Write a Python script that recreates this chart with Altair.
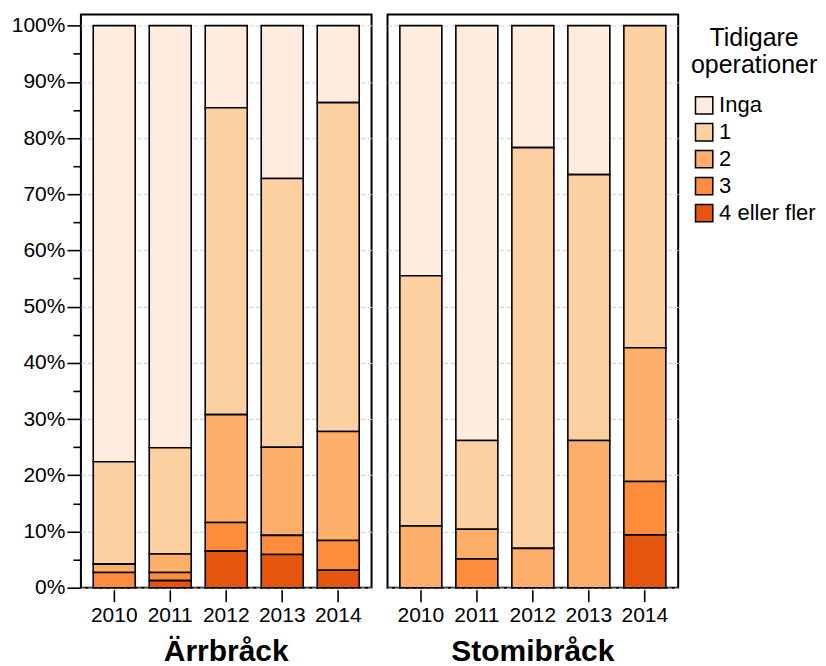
import altair as alt
import pandas as pd

years = ["2010", "2011", "2012", "2013", "2014"]
panels = ["Ärrbråck", "Stomibråck"]
categories = ["Inga", "1", "2", "3", "4 eller fler"]
colors = ["#feedde", "#fdd0a2", "#fdae6b", "#fd8d3c", "#e6550d"]

# percentages per category, per year
arr_inga = [77.6, 75.1, 14.6, 27.2, 13.7]
arr_1 = [18.2, 18.9, 54.6, 47.8, 58.5]
arr_2 = [1.5, 3.3, 19.2, 15.7, 19.4]
arr_3 = [2.7, 1.45, 5.1, 3.4, 5.3]
arr_4 = [0.0, 1.25, 6.5, 5.9, 3.1]

stomi_inga = [44.5, 73.8, 21.7, 26.5, 0.0]
stomi_1 = [44.5, 15.8, 71.3, 47.3, 57.3]
stomi_2 = [11.0, 5.3, 7.0, 26.2, 23.8]
stomi_3 = [0.0, 5.1, 0.0, 0.0, 9.5]
stomi_4 = [0.0, 0.0, 0.0, 0.0, 9.4]

series = {
    "Ärrbråck": [arr_inga, arr_1, arr_2, arr_3, arr_4],
    "Stomibråck": [stomi_inga, stomi_1, stomi_2, stomi_3, stomi_4],
}

rows = []
for panel in panels:
    for ci, cat in enumerate(categories):
        for yi, yr in enumerate(years):
            v = series[panel][ci][yi]
            if v > 0:
                rows.append({"panel": panel, "year": yr, "cat": cat,
                             "order": len(categories) - ci, "value": v})
df = pd.DataFrame(rows)

FONT = "Liberation Sans"
major = "round(datum.value*100) % 10 == 0"
tick_vals = [i / 100 for i in range(0, 101, 5)]

base = alt.Chart(df).mark_bar(stroke="black", strokeWidth=1.6).encode(
    x=alt.X("year:N", title=None,
            scale=alt.Scale(paddingInner=0.25, paddingOuter=0.22),
            axis=alt.Axis(labelAngle=0, tickSize=12, tickWidth=1.6, tickColor="black",
                          domain=False, labelFontSize=21, labelPadding=3,
                          labelColor="black", labelFont=FONT)),
    y=alt.Y("value:Q", stack="normalize", title=None,
            scale=alt.Scale(domain=[0, 1.02], nice=False, zero=True),
            axis=alt.Axis(values=tick_vals, format=".0%",
                          labelExpr=f"{major} ? datum.label : ''",
                          tickSize={"condition": {"test": major, "value": 13}, "value": 7},
                          tickWidth=1.6, tickColor="black", domain=False,
                          grid=True, gridDash=[4, 3], gridColor="#d0d0d0",
                          gridOpacity={"condition": {"test": major, "value": 1}, "value": 0},
                          labelFontSize=21, labelColor="black", labelFont=FONT,
                          labelPadding=2)),
    color=alt.Color("cat:N", scale=alt.Scale(domain=categories, range=colors),
                    legend=alt.Legend(title=["Tidigare", "operationer"],
                                      titleFontSize=25, titleFont=FONT,
                                      titleFontWeight="normal", titleColor="black",
                                      titleAlign="center", titleAnchor="middle",
                                      titleLineHeight=27, titlePadding=16,
                                      labelFontSize=22, labelFont=FONT, labelColor="black",
                                      labelOffset=4,
                                      symbolType="square", symbolSize=300,
                                      symbolStrokeColor="black", symbolStrokeWidth=1.5,
                                      symbolOpacity=1, rowPadding=3,
                                      orient="none", legendX=611, legendY=12)),
    order=alt.Order("order:Q", sort="ascending"),
).properties(width=291, height=574)

chart = base.facet(
    column=alt.Column("panel:N", sort=panels, title=None,
                      header=alt.Header(labelOrient="bottom", labelFontSize=30,
                                        labelFontWeight="bold", labelFont=FONT,
                                        labelColor="black", labelPadding=11)),
    spacing=14,
).properties(
    padding={"top": 5, "left": 3, "right": 0, "bottom": 0}
).configure(font=FONT).configure_view(stroke="black", strokeWidth=2)

chart.save("out.html", embed_options={"renderer": "svg", "actions": False})
